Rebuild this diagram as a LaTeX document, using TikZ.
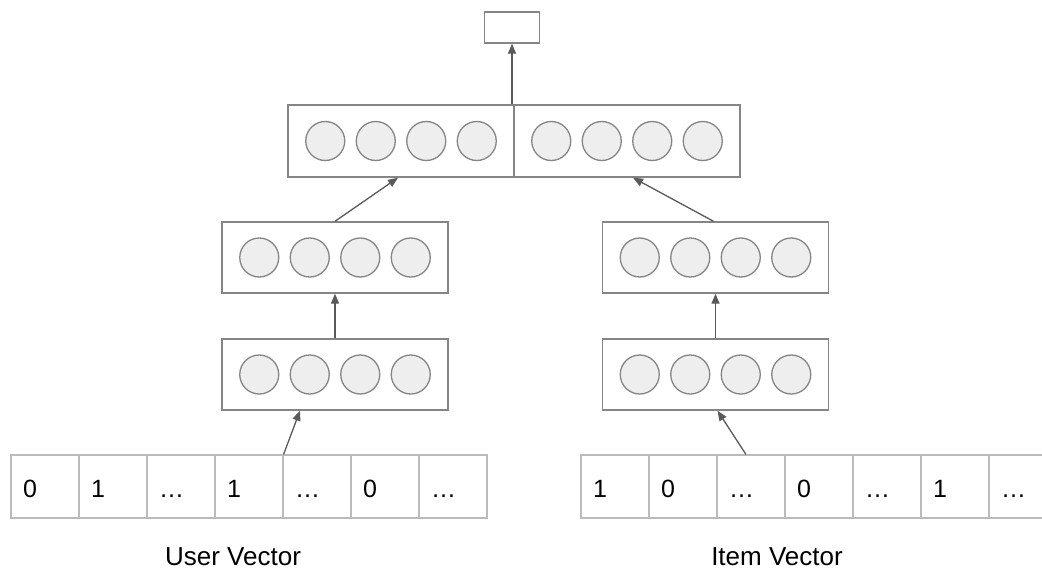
\documentclass[tikz,border=0pt]{standalone}
\usepackage{fontspec}
\setmainfont{Liberation Sans}
\usetikzlibrary{arrows.meta,calc}
\definecolor{boxline}{HTML}{858585}
\definecolor{cellline}{HTML}{BBBBBB}
\definecolor{unitfill}{HTML}{EEEEEE}
\definecolor{arrowc}{HTML}{5A5A5A}
\tikzset{
  layer/.style={draw=boxline, line width=1.4pt, rectangle, inner sep=0pt,
                minimum width=226pt, minimum height=71pt},
  unit/.style={circle, draw=boxline, line width=1.3pt, fill=unitfill,
               inner sep=0pt, minimum size=39pt},
  cell/.style={draw=cellline, line width=1.1pt, rectangle, inner sep=0pt,
               minimum width=68pt, minimum height=63pt},
  celltext/.style={anchor=base west, inner sep=0pt, font=\fontsize{25}{30}\selectfont},
  caption/.style={anchor=base, inner sep=0pt, font=\fontsize{26}{30}\selectfont},
  link/.style={draw=arrowc, line width=1.3pt, -{Triangle[length=10pt,width=8pt]}},
}
\begin{document}
\begin{tikzpicture}[x=1pt, y=-1pt]
\clip (0,0) rectangle (1042,570);
\fill[white] (0,0) rectangle (1042,570);

% output unit
\node[draw=boxline, line width=1.4pt, inner sep=0pt, minimum width=55pt, minimum height=31pt] (out) at (512,27.5) {};

% concatenated layer
\node[layer, minimum height=72pt] (catL) at (401,141) {};
\node[layer, minimum height=72pt] (catR) at (627,141) {};
\foreach \i/\x in {1/325.25,2/375.75,3/426.25,4/476.75}
  \node[unit] (cl\i) at (\x,141) {};
\foreach \i/\x in {1/551.25,2/601.75,3/652.25,4/702.75}
  \node[unit] (cr\i) at (\x,141) {};

% user tower
\node[layer] (midL) at (335,257.5) {};
\node[layer] (lowL) at (335,374.5) {};
% item tower
\node[layer] (midR) at (715.5,257.5) {};
\node[layer] (lowR) at (715.5,374.5) {};
\foreach \b in {midL,lowL,midR,lowR}
  \foreach \k/\dx in {1/-75.75,2/-25.25,3/25.25,4/75.75}
    \node[unit] (\b\k) at ($(\b.center)+(\dx,0)$) {};

% user vector
\foreach \i/\t [count=\n] in {0/0,1/1,2/…,3/1,4/…,5/0,6/…} {
  \node[cell] (u\n) at (11+34+68*\i,486.5) {};
  \node[celltext] (ut\n) at ($(u\n.west)+(12.5,10.5)$) {\t};
}
% item vector
\foreach \i/\t [count=\n] in {0/1,1/0,2/…,3/0,4/…,5/1,6/…} {
  \node[cell] (v\n) at (581+34+68*\i,486.5) {};
  \node[celltext] (vt\n) at ($(v\n.west)+(12.5,10.5)$) {\t};
}

\node[caption] (ucap) at (233,565) {User Vector};
\node[caption] (vcap) at (777,565) {Item Vector};

% connections
\draw[link] (out.south |- catL.north) -- (out.south);
\draw[link] (midL.north) -- ($(catL.south)+(-3,0)$);
\draw[link] (lowL.north) -- (midL.south);
\draw[link] (u4.north east) -- ($(lowL.south)+(-35,0)$);
\draw[link] ($(midR.north)+(-2,0)$) -- ($(catR.south)+(6,0)$);
\draw[link] (lowR.north) -- (midR.south);
\draw[link] ($(v3.north)+(-5,0)$) -- ($(lowR.south)+(2,0)$);
\end{tikzpicture}
\end{document}
